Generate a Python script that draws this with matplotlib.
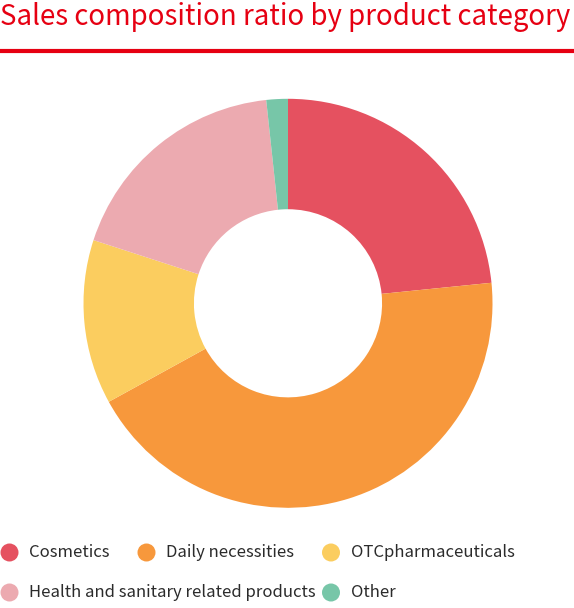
import matplotlib.pyplot as plt

categories = ['Cosmetics', 'Daily necessities', 'OTCpharmaceuticals',
              'Health and sanitary related products', 'Other']
shares = [23.4, 43.6, 13.0, 18.3, 1.7]
colors = ['#E55160', '#F7983C', '#FBCD5F', '#ECAAB0', '#77C6A8']

plt.rcParams['font.family'] = ['Noto Sans CJK JP', 'DejaVu Sans']

W, H = 574, 608
fig = plt.figure(figsize=(W / 100, H / 100), dpi=100)
renderer = fig.canvas.get_renderer()


def fit(t, target_px):
    # shrink/grow a text so it spans target_px pixels wide
    w = t.get_window_extent(renderer).width
    t.set_fontsize(t.get_fontsize() * target_px / w)


# title + red rule
title = fig.text(0, 1 - 2 / H, 'Sales composition ratio by product category',
                 color='#E60012', fontsize=20, ha='left', va='top')
fit(title, 571)
fig.add_artist(plt.Line2D([0, 1], [1 - 51 / H, 1 - 51 / H], color='#E60012', lw=3.0))

# donut
cx, cy, r = 288, 303.3, 204.5
ax = fig.add_axes([(cx - r) / W, (H - cy - r) / H, 2 * r / W, 2 * r / H])
ax.pie(shares, colors=colors, startangle=90, counterclock=False,
       wedgeprops=dict(width=0.54, edgecolor='none'))
ax.set_xlim(-1, 1)
ax.set_ylim(-1, 1)
ax.set_aspect('equal')
ax.axis('off')

# legend, laid out like the original (flowing rows)
lax = fig.add_axes([0, 0, 1, 1])
lax.set_xlim(0, W)
lax.set_ylim(H, 0)
lax.axis('off')
spots = [(9.5, 552.5), (146.5, 552.5), (331, 552.5), (9.5, 592.5), (331, 592.5)]
labels = []
for (x, y), name, c in zip(spots, categories, colors):
    lax.scatter([x], [y], s=168, color=c, edgecolors='none')
    labels.append(lax.text(x + 19.5, y, name, fontsize=13, color='#2b2b2b',
                           ha='left', va='center'))
# size legend text from the widest entry
w = labels[3].get_window_extent(renderer).width
for t in labels:
    t.set_fontsize(13 * 286 / w)

fig.savefig('out.png', dpi=100)
